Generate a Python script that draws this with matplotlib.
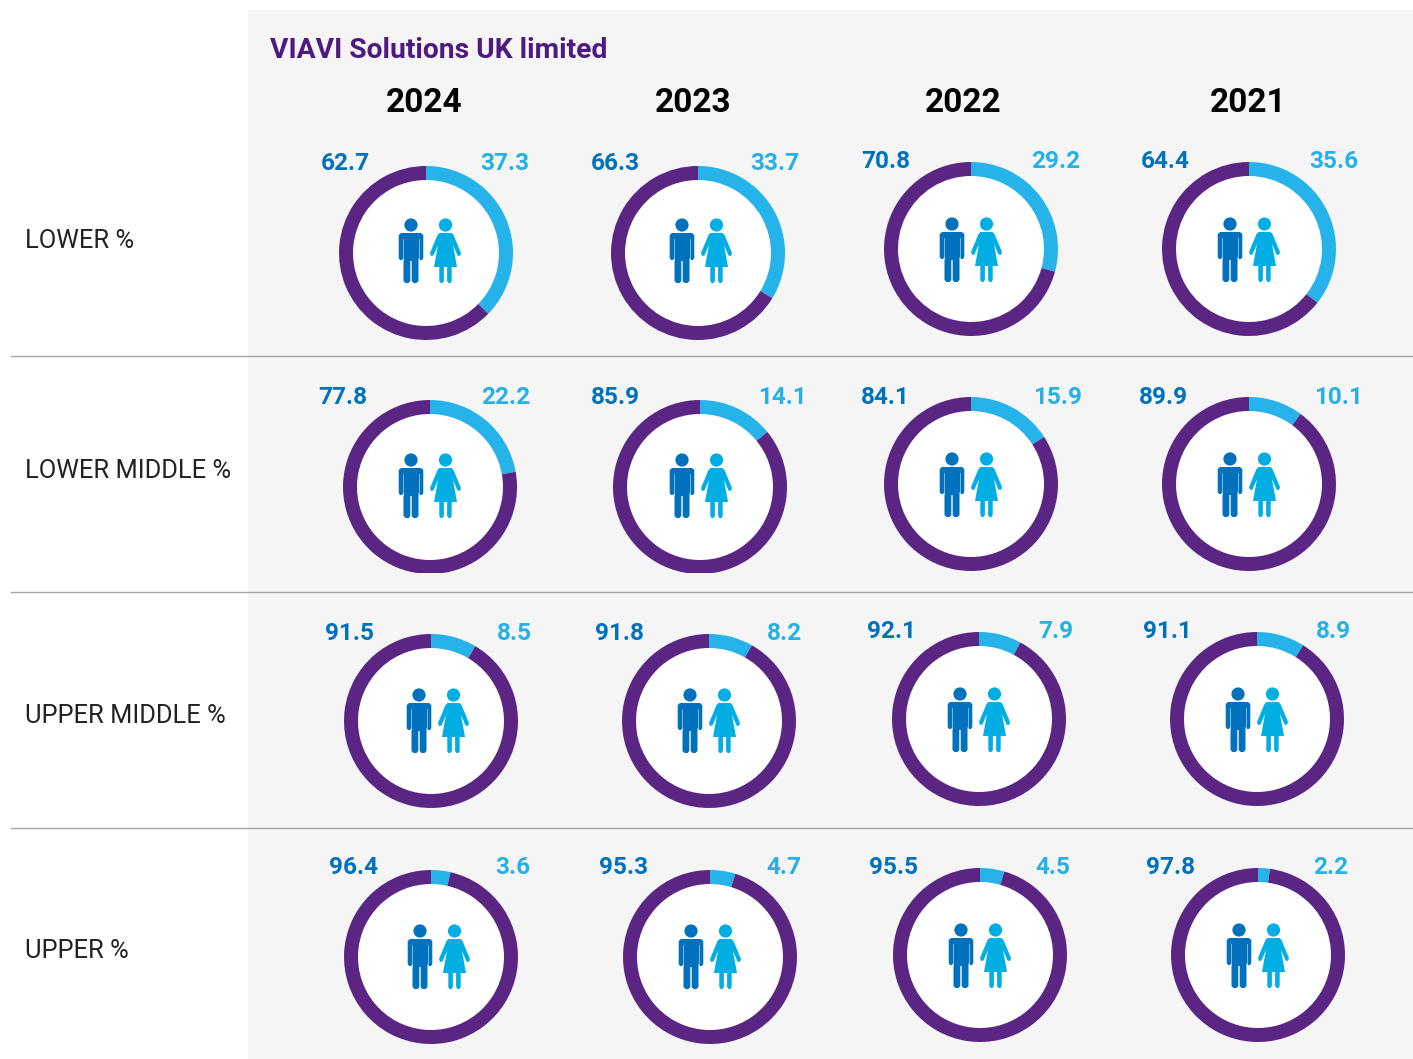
# -*- coding: utf-8 -*-
import matplotlib
matplotlib.use('Agg')
import matplotlib.pyplot as plt
from matplotlib.patches import Rectangle, Polygon, Circle

rows = ['LOWER %', 'LOWER MIDDLE %', 'UPPER MIDDLE %', 'UPPER %']
years = ['2024', '2023', '2022', '2021']
male = [[62.7, 66.3, 70.8, 64.4],
        [77.8, 85.9, 84.1, 89.9],
        [91.5, 91.8, 92.1, 91.1],
        [96.4, 95.3, 95.5, 97.8]]
female = [[37.3, 33.7, 29.2, 35.6],
          [22.2, 14.1, 15.9, 10.1],
          [8.5, 8.2, 7.9, 8.9],
          [3.6, 4.7, 4.5, 2.2]]

# layout, pixels of the 1413x1059 picture
W, H = 1413, 1059
ring_x = [[426, 698, 971, 1249],
          [430, 700, 971, 1249],
          [431, 709, 979, 1257],
          [431, 710, 980, 1258]]
ring_y = [[253, 253, 249, 249],
          [487, 487, 484, 484],
          [721, 721, 719, 719],
          [957, 957, 955, 955]]
man_x = [[411, 682, 952, 1230],
         [411, 682, 952, 1230],
         [419, 690, 960, 1238],
         [420, 691, 961, 1239]]
head_y = [[225, 225, 224, 224],
          [460, 460, 459, 459],
          [695, 695, 694, 694],
          [931, 931, 930, 930]]
male_lx = [[345, 615, 886, 1165],
           [343, 615, 885, 1163],
           [350, 620, 891, 1167],
           [354, 624, 894, 1171]]
female_lx = [[505, 775, 1056, 1334],
             [506, 782, 1058, 1339],
             [514, 784, 1056, 1333],
             [513, 784, 1053, 1331]]
label_y = [[163, 163, 161, 161],
           [398, 398, 397, 397],
           [633, 633, 632, 632],
           [868, 868, 867, 867]]
row_y = [241, 471, 716, 951]
year_x = [424, 693, 963, 1248]
sep_y = [356, 592, 828]

PURPLE = '#5b2583'
LIGHT = '#25b3ea'
MAN = '#0071bc'
WOMAN = '#00aee3'
PANEL = '#f5f5f5'
FONT = ['Roboto', 'DejaVu Sans']

fig = plt.figure(figsize=(W / 100, H / 100), dpi=100, facecolor='white')
ax = fig.add_axes([0, 0, 1, 1])
ax.set_xlim(0, W)
ax.set_ylim(H, 0)
ax.axis('off')

ax.add_patch(Rectangle((248, 10), W - 248, H - 10, color=PANEL, lw=0, zorder=0))
for y in sep_y:
    ax.plot([11, W], [y, y], color='#a6a6a6', lw=1.0, zorder=1)


def draw_man(x, y):
    ax.add_patch(Circle((x, y), 6.6, color=MAN, lw=0, zorder=5))
    pts = [(-10, 8), (10, 8), (12.3, 10), (12.3, 33), (11, 35), (9, 35), (7.5, 33), (7.5, 56),
           (5.5, 58), (2.5, 58), (0.7, 56), (0.7, 36), (-0.7, 36), (-0.7, 56), (-2.5, 58), (-5.5, 58),
           (-7.5, 56), (-7.5, 33), (-9, 35), (-11, 35), (-12.3, 33), (-12.3, 10)]
    ax.add_patch(Polygon([(x + a, y + b) for a, b in pts], color=MAN, lw=0, zorder=5))
    # thin gaps between arms and body
    for s in (-1, 1):
        ax.plot([x + s * 7.8, x + s * 7.8], [y + 14, y + 35], color='white', lw=0.5, alpha=0.7, zorder=6)


def draw_woman(x, y):
    ax.add_patch(Circle((x, y), 6.6, color=WOMAN, lw=0, zorder=5))
    pts = [(-6, 8), (6, 8), (8, 10), (15.5, 28), (14.5, 31), (12, 30.5), (7.5, 20), (11.5, 42),
           (6.2, 42), (6.2, 56), (5, 58), (3, 58), (1.6, 56), (1.6, 42), (-1.6, 42), (-1.6, 56),
           (-3, 58), (-5, 58), (-6.2, 56), (-6.2, 42), (-11.5, 42), (-7.5, 20), (-12, 30.5),
           (-14.5, 31), (-15.5, 28), (-8, 10)]
    ax.add_patch(Polygon([(x + a, y + b) for a, b in pts], color=WOMAN, lw=0, zorder=5))


for i, name in enumerate(rows):
    ax.text(25, row_y[i], name, fontsize=18.4, family=FONT, fontweight='normal', color='#222222',
            ha='left', va='center')
    for j in range(4):
        cx, cy = ring_x[i][j], ring_y[i][j]
        r = 87
        d = ax.inset_axes([(cx - r) / W, 1 - (cy + r) / H, 2 * r / W, 2 * r / H], zorder=2)
        d.pie([female[i][j], male[i][j]], colors=[LIGHT, PURPLE], startangle=90, counterclock=False,
              radius=1, wedgeprops={'width': 14 / 87, 'linewidth': 0})
        d.add_patch(Circle((0, 0), 73 / 87, color='white', lw=0, zorder=0))
        d.set_xlim(-1, 1)
        d.set_ylim(-1, 1)
        draw_man(man_x[i][j], head_y[i][j])
        draw_woman(man_x[i][j] + 34.5, head_y[i][j])
        ax.text(male_lx[i][j], label_y[i][j], '%.1f' % male[i][j], fontsize=17.6, family=FONT,
                fontweight='bold', color=MAN, ha='center', va='center')
        ax.text(female_lx[i][j], label_y[i][j], '%.1f' % female[i][j], fontsize=17.6, family=FONT,
                fontweight='bold', color='#25b0e6', ha='center', va='center')

# the two left rings of the second row are cut flat at the bottom
ax.add_patch(Rectangle((300, 573), 500, 5, color=PANEL, lw=0, zorder=3))

ax.text(270, 50, 'VIAVI Solutions UK limited', fontsize=20.3, family=FONT, fontweight='bold',
        color='#4f1a80', ha='left', va='center')
for j, year in enumerate(years):
    ax.text(year_x[j], 103, year, fontsize=24, family=FONT, fontweight='bold', color='black',
            ha='center', va='center')

fig.savefig('out.png', dpi=100)
